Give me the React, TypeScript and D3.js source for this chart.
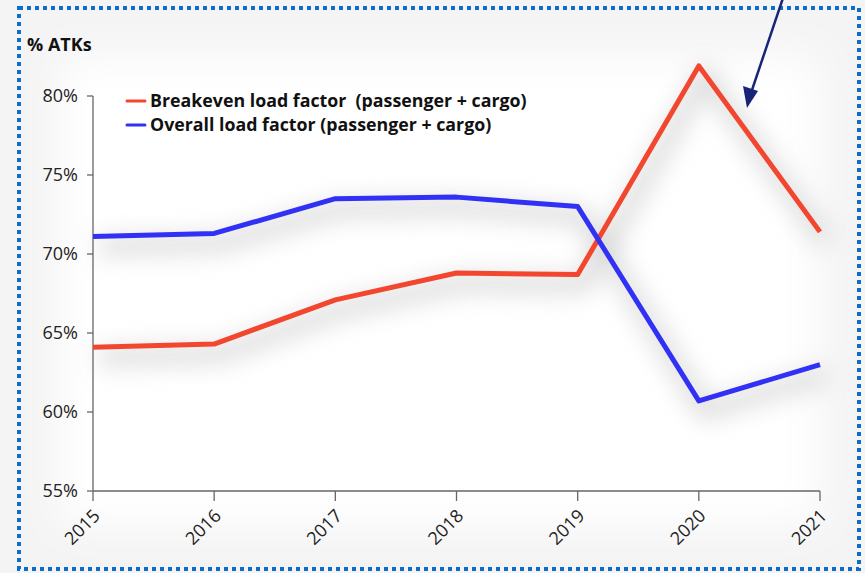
import React from "react";
import { scaleLinear, scalePoint, line } from "d3";

const years = ["2015", "2016", "2017", "2018", "2019", "2020", "2021"];
const breakeven = [64.1, 64.3, 67.1, 68.8, 68.7, 81.9, 71.4];
const overall = [71.1, 71.3, 73.5, 73.6, 73.0, 60.7, 63.0];
const yTicks = [55, 60, 65, 70, 75, 80];
const seriesNames = [
  "Breakeven load factor  (passenger + cargo)",
  "Overall load factor (passenger + cargo)",
];

const W = 865;
const H = 573;
const left = 93;
const right = 820;
const top = 96;
const bottom = 491;

const App = () => {
  const x = scalePoint<string>().domain(years).range([left, right]);
  const y = scaleLinear().domain([55, 80]).range([bottom, top]);

  const path = line<number>()
    .x((d, i) => x(years[i]) as number)
    .y((d) => y(d));

  const series = [
    { name: seriesNames[0], values: breakeven, color: "#f2462f" },
    { name: seriesNames[1], values: overall, color: "#3131f5" },
  ];

  const font = "'Open Sans', 'DejaVu Sans', sans-serif";

  return (
    <svg
      width={W}
      height={H}
      style={{ position: "absolute", left: 0, top: 0, display: "block" }}
    >
      <defs>
        <filter id="shadow" x="-20%" y="-20%" width="140%" height="140%">
          <feGaussianBlur stdDeviation="12" />
        </filter>
        <filter id="soft" x="-20%" y="-20%" width="140%" height="140%">
          <feGaussianBlur stdDeviation="20" />
        </filter>
      </defs>

      {/* background */}
      <rect x={0} y={0} width={W} height={H} fill="#f4f4f4" />
      <rect
        x={60}
        y={55}
        width={760}
        height={470}
        fill="#ffffff"
        filter="url(#soft)"
      />

      {/* soft shadows under the lines */}
      {series.map((s) => (
        <path
          key={"sh" + s.name}
          d={path(s.values) || ""}
          transform="translate(6,10)"
          fill="none"
          stroke="#c8c8c8"
          strokeWidth={14}
          filter="url(#shadow)"
          opacity={0.8}
        />
      ))}

      {/* dotted frame */}
      <rect
        x={19}
        y={8}
        width={840}
        height={561}
        fill="none"
        stroke="#0a6fca"
        strokeWidth={4}
        strokeDasharray="4 4"
      />

      {/* y axis */}
      <line x1={left} x2={left} y1={top} y2={bottom} stroke="#666" strokeWidth={1.3} />
      {yTicks.map((t) => (
        <g key={t}>
          <line x1={left - 6} x2={left} y1={y(t)} y2={y(t)} stroke="#666" strokeWidth={1.3} />
          <text
            x={left - 15}
            y={y(t)}
            dy="0.35em"
            textAnchor="end"
            fontFamily={font}
            fontSize={18}
            fill="#222"
          >
            {t}%
          </text>
        </g>
      ))}

      {/* x axis */}
      <line x1={left} x2={right} y1={bottom} y2={bottom} stroke="#666" strokeWidth={1.3} />
      {years.map((yr) => {
        const px = x(yr) as number;
        return (
          <g key={yr}>
            <line x1={px} x2={px} y1={bottom} y2={bottom + 10} stroke="#666" strokeWidth={1.3} />
            <text
              transform={`translate(${px + 8},${bottom + 26}) rotate(-45)`}
              textAnchor="end"
              fontFamily={font}
              fontSize={18}
              fill="#222"
            >
              {yr}
            </text>
          </g>
        );
      })}

      {/* axis title */}
      <text x={27} y={51} fontFamily={font} fontWeight="bold" fontSize={18} fill="#111">
        % ATKs
      </text>

      {/* lines */}
      {series.map((s) => (
        <path
          key={s.name}
          d={path(s.values) || ""}
          fill="none"
          stroke={s.color}
          strokeWidth={5}
          strokeLinejoin="round"
        />
      ))}

      {/* legend */}
      {series.map((s, i) => (
        <g key={"lg" + s.name} transform={`translate(127,${101 + i * 24})`}>
          <line x1={0} x2={18} y1={0} y2={0} stroke={s.color} strokeWidth={3} strokeLinecap="round" />
          <text
            x={23}
            y={0}
            dy="0.35em"
            fontFamily={font}
            fontWeight="bold"
            fontSize={17.8}
            fill="#111"
            style={{ whiteSpace: "pre" }}
          >
            {s.name}
          </text>
        </g>
      ))}

      {/* annotation arrow */}
      <line x1={783} y1={-2} x2={752} y2={90} stroke="#18237a" strokeWidth={2.5} />
      <path d="M 747 108 L 743 86 L 758 91 Z" fill="#18237a" />
    </svg>
  );
};

export default App;
